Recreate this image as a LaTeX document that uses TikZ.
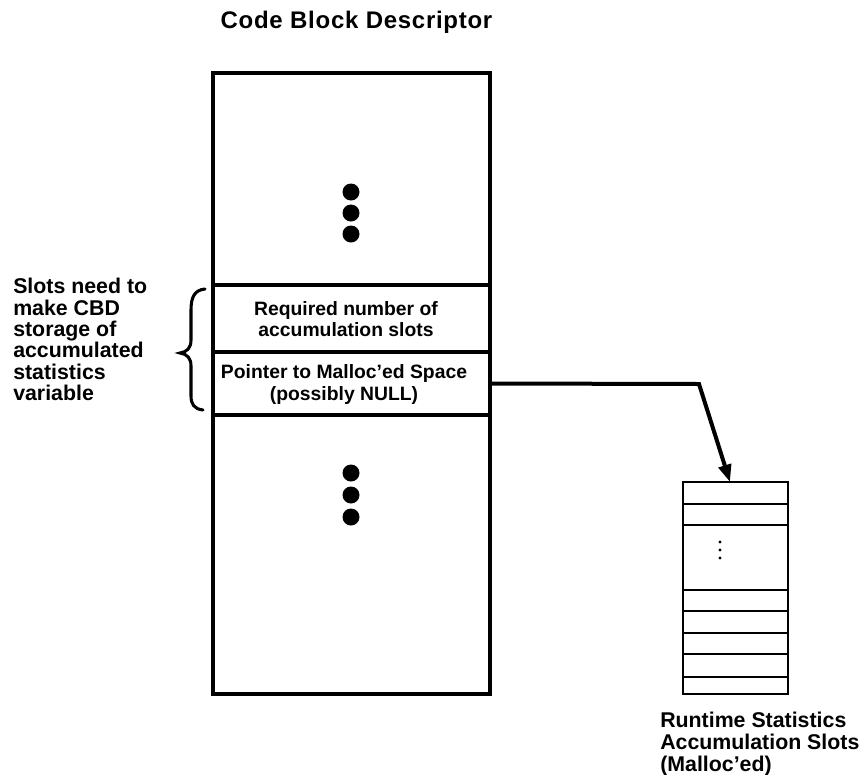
\documentclass[tikz,border=0pt]{standalone}
\usepackage{fontspec}
\setmainfont{Liberation Sans}
\usetikzlibrary{arrows.meta}
\begin{document}
\begin{tikzpicture}[x=0.75pt,y=-0.75pt,
  cell/.style={draw,line width=3.3pt,rectangle,anchor=north west,inner sep=0pt,outer sep=0pt,
    minimum width=277*0.75pt},
  slotbox/.style={draw,line width=2pt,rectangle,anchor=north west,inner sep=0pt,outer sep=0pt,
    minimum width=105*0.75pt,minimum height=212*0.75pt},
  slotline/.style={line width=2pt},
  celltext/.style={font=\bfseries\fontsize{14.5}{15.9}\selectfont,align=center,inner sep=0pt},
  note/.style={font=\bfseries\fontsize{16}{16}\selectfont,align=left,inner sep=0pt,anchor=north west},
  bigdot/.style={fill=black},
  pointer/.style={line width=3pt,-{Triangle[length=13pt,width=9.5pt]},line join=miter}
]
\useasboundingbox (0,0) rectangle (861,775);

% title
\node[font=\bfseries\fontsize{18}{18}\selectfont\addfontfeatures{LetterSpace=3},anchor=base,inner sep=0pt]
  (title) at (356.5,28) {Code Block Descriptor};

% code block descriptor cells
\node[cell,minimum height=212*0.75pt] (cbdtop) at (213,73) {};
\node[cell,minimum height=67*0.75pt]  (req)    at (213,285) {};
\node[cell,minimum height=63*0.75pt]  (ptr)    at (213,352) {};
\node[cell,minimum height=279*0.75pt] (cbdbot) at (213,415) {};

\node[celltext] (reqtext) at (346,319) {Required number of\\accumulation slots};
\node[celltext] (ptrtext) at (344,384.5) {Pointer to Malloc'ed Space\\(possibly NULL)};

% elided fields
\foreach \yy in {192,213,234,473,495,517}
  \fill[bigdot] (351,\yy) circle[radius=8.5];

% note and brace
\node[note] (slotnote) at (13,278) {Slots need to\\make CBD\\storage of\\accumulated\\statistics\\variable};
\draw[line width=2.3pt,line cap=round]
  (205,289) .. controls (194,290) and (191,298) .. (191,310) -- (191,340)
  .. controls (191,348) and (187,352) .. (180,353)
  .. controls (187,354) and (191,358) .. (191,366) -- (191,396)
  .. controls (191,404) and (194,409) .. (203,410);

% malloc'ed slot array
\node[slotbox] (slots) at (683,482) {};
\foreach \yy in {504,525,590,611,633,654,677}
  \draw[slotline] (slots.west |- 0,\yy) -- (slots.east |- 0,\yy);
\foreach \yy in {542,550,558}
  \fill (720,\yy) circle[radius=1.7];

\node[note,font=\bfseries\fontsize{16}{16.5}\selectfont] (slotlabel) at (660,712)
  {Runtime Statistics\\Accumulation Slots\\(Malloc'ed)};

% pointer
\coordinate (bend) at (699,384);
\draw[pointer] (ptr.east) -- (bend) -- ([xshift=-5.5*0.75pt]slots.north);
\end{tikzpicture}
\end{document}
